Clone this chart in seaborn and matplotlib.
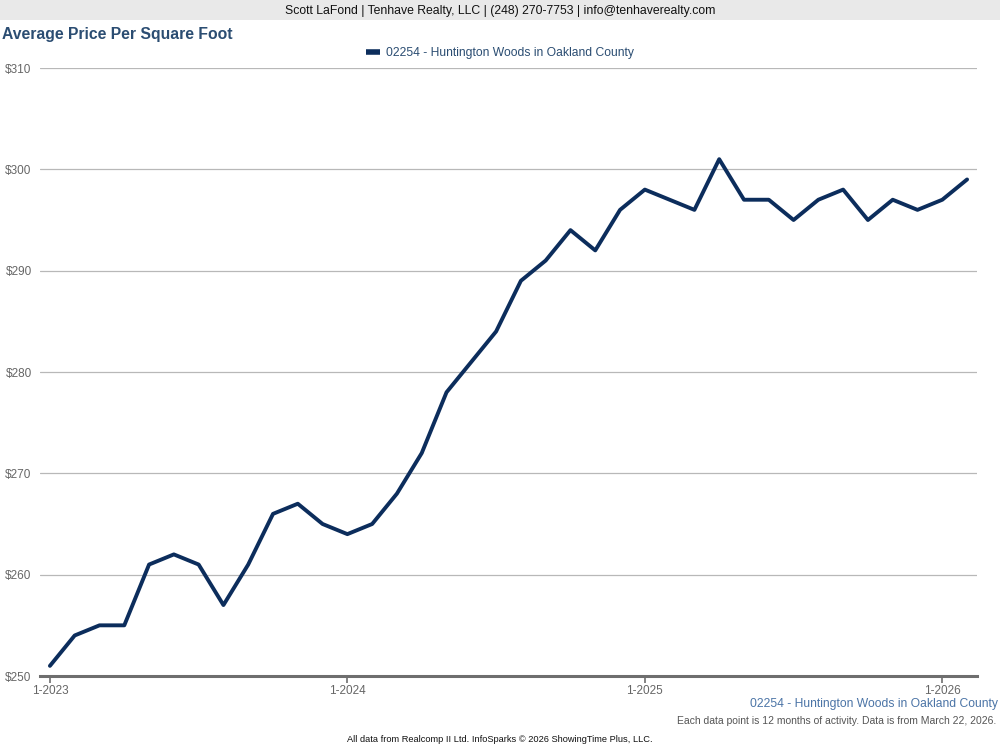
import matplotlib
matplotlib.use("Agg")
import matplotlib.pyplot as plt
import seaborn as sns
import pandas as pd
import numpy as np

months = [f"{m}-{y}" for y in (2023, 2024, 2025) for m in range(1, 13)] + ["1-2026", "2-2026"]
price = [251, 254, 255, 255, 261, 262, 261, 257, 261, 266, 267, 265,
         264, 265, 268, 272, 278, 281, 284, 289, 291, 294, 292, 296,
         298, 297, 296, 301, 297, 297, 295, 297, 298, 295, 297, 296,
         297, 299]
series_name = "02254 - Huntington Woods in Oakland County"
yticks = [250, 260, 270, 280, 290, 300, 310]
xtick_labels = ["1-2023", "1-2024", "1-2025", "1-2026"]

df = pd.DataFrame({"idx": np.arange(len(months)), "month": months, "price": price,
                   "series": series_name})

sns.set_style("white")
plt.rcParams['font.family'] = ['Liberation Sans', 'DejaVu Sans']

fig = plt.figure(figsize=(10, 7.5), dpi=100)
# header band
fig.patches.append(matplotlib.patches.Rectangle((0, 1 - 20/750), 1, 20/750, transform=fig.transFigure,
                                                 facecolor="#e9e9e9", edgecolor="none", zorder=0))
fig.text(0.5, 1 - 11/750, "Scott LaFond | Tenhave Realty, LLC | (248) 270-7753 | info@tenhaverealty.com",
         ha="center", va="center", fontsize=8.85, color="#111111")
fig.text(0.002, 1 - 35/750, "Average Price Per Square Foot", ha="left", va="center",
         fontsize=11.3, fontweight="bold", color="#2b4d72")

ax = fig.add_axes([40/1000, 1 - 676/750, 937/1000, (676 - 68)/750])
sns.lineplot(data=df, x="idx", y="price", ax=ax, color="#0c2d5c", linewidth=2.8,
             legend=False, zorder=3)

ax.set_xlim(-0.4, 37.4)
ax.set_ylim(250, 310)
ax.set_yticks(yticks)
ax.set_yticklabels([f"${v}" for v in yticks])
ax.set_xticks([0, 12, 24, 36])
ax.set_xticklabels(xtick_labels)
ax.set_xlabel("")
ax.set_ylabel("")
for v in yticks[1:]:
    ax.axhline(v, color="#b8b8b8", linewidth=0.9, zorder=1)
for s in ["top", "right", "left"]:
    ax.spines[s].set_visible(False)
ax.spines["bottom"].set_color("#6e6e6e")
ax.spines["bottom"].set_linewidth(2.2)
ax.tick_params(axis="y", length=0, pad=6, labelsize=8.5, labelcolor="#666666")
ax.tick_params(axis="x", length=5, width=1.2, color="#6e6e6e", pad=1.5, labelsize=8.5,
               labelcolor="#666666", direction="out", bottom=True)
ax.set_facecolor("white")

# legend
leg_handle = matplotlib.lines.Line2D([], [], color="#0c2d5c", linewidth=4, solid_capstyle="butt")
fig.legend([leg_handle], [series_name], loc="center", bbox_to_anchor=(0.5, 1 - 53/750),
           frameon=False, fontsize=8.7, handlelength=1.2, handletextpad=0.5,
           labelcolor="#2b4d72")

fig.text(0.998, 1 - 704/750, series_name, ha="right", va="center", fontsize=8.7, color="#4b74a6")
fig.text(0.996, 1 - 721/750, "Each data point is 12 months of activity. Data is from March 22, 2026.",
         ha="right", va="center", fontsize=7.45, color="#555555")
fig.text(0.5, 1 - 740/750, "All data from Realcomp II Ltd. InfoSparks © 2026 ShowingTime Plus, LLC.",
         ha="center", va="center", fontsize=6.7, color="#111111")

fig.savefig("out.png", dpi=100)
